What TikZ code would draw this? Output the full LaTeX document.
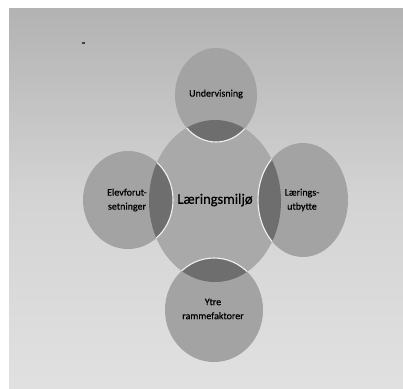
\documentclass[tikz,border=0pt]{standalone}
\usepackage{fontspec}
\setmainfont{Carlito}
\newfontfamily\labfont{Carlito}[FakeBold=0.7]
\begin{document}
\begin{tikzpicture}[x=1pt,y=-1pt,
  outer/.style={fill=circgray},
  rim/.style={draw=white!95!black,line width=1.1pt},
  lbl/.style={font=\labfont\fontsize{10}{14}\selectfont,align=center,text=black,inner sep=0pt},
  ]
\definecolor{circgray}{HTML}{A3A3A3}
\definecolor{centgray}{HTML}{A9A9A9}
\definecolor{lensgray}{HTML}{6E6E6E}
\useasboundingbox (0,0) rectangle (403,388);
\fill[white] (0,0) rectangle (403,388);
\shade[top color=black!30, bottom color=black!12, middle color=black!17] (9,8) rectangle (403,388);
\fill[black!75] (82,42) rectangle (85,44);
% center
\fill[centgray] (215,201) ellipse [x radius=66, y radius=81];
% outer circles
\path[outer] (216,95) ellipse [x radius=41, y radius=47];
\path[outer] (128,200) ellipse [x radius=45, y radius=49];
\path[outer] (303,200) ellipse [x radius=45, y radius=57];
\path[outer] (214,310) ellipse [x radius=49, y radius=52];
% lenses and their rims
\begin{scope}
  \clip (215,201) ellipse [x radius=66, y radius=81];
  \fill[lensgray] (216,95) ellipse [x radius=41, y radius=47];
  \fill[lensgray] (128,200) ellipse [x radius=45, y radius=49];
  \fill[lensgray] (303,200) ellipse [x radius=45, y radius=57];
  \fill[lensgray] (214,310) ellipse [x radius=49, y radius=52];
  \draw[rim] (216,95) ellipse [x radius=41, y radius=47];
  \draw[rim] (128,200) ellipse [x radius=45, y radius=49];
  \draw[rim] (303,200) ellipse [x radius=45, y radius=57];
  \draw[rim] (214,310) ellipse [x radius=49, y radius=52];
\end{scope}
% labels
\node[lbl] (top) at (216,94) {Undervisning};
\node[lbl,font=\labfont\fontsize{14.5}{16}\selectfont] (mid) at (215,200) {Læringsmiljø};
\node[lbl] (left) at (127,200) {Elevforut-\\setninger};
\node[lbl] (right) at (302,200) {Lærings-\\utbytte};
\node[lbl] (bot) at (213,309) {Ytre\\rammefaktorer};
\end{tikzpicture}
\end{document}
